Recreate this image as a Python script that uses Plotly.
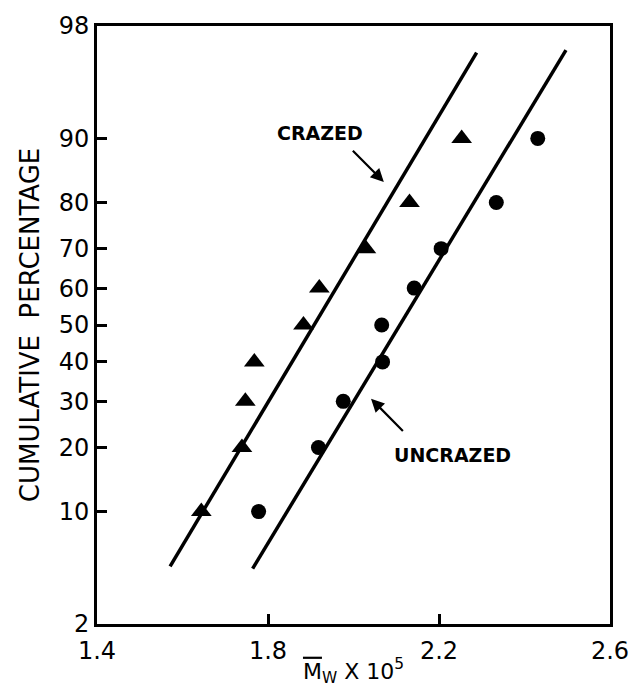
from statistics import NormalDist
import plotly.graph_objects as go

# ---- data ----
crazed_mw = [1.644, 1.739, 1.747, 1.768, 1.883, 1.920, 2.029, 2.131, 2.253]
crazed_pct = [10, 20, 30, 40, 50, 60, 70, 80, 90]
uncrazed_mw = [1.778, 1.918, 1.976, 2.068, 2.066, 2.142, 2.205, 2.334, 2.431]
uncrazed_pct = [10, 20, 30, 40, 50, 60, 70, 80, 90]

crazed_line_mw = [1.571, 2.288]
crazed_line_pct = [4.87, 96.93]
uncrazed_line_mw = [1.764, 2.497]
uncrazed_line_pct = [4.71, 97.05]

y_tick_pct = [2, 10, 20, 30, 40, 50, 60, 70, 80, 90, 98]
y_tick_text = ["2", "10", "20", "30", "40", "50", "60", "70", "80", "90", "98"]
x_tick_vals = [1.4, 1.8, 2.2, 2.6]
x_tick_text = ["1.4", "1.8", "2.2", "2.6"]

nd = NormalDist()
def z(p):
    return nd.inv_cdf(p / 100.0)

FONT = "DejaVu Sans"
fig = go.Figure()

fig.add_trace(go.Scatter(x=crazed_line_mw, y=[z(p) for p in crazed_line_pct], mode="lines",
                         line=dict(color="black", width=3.5), showlegend=False, hoverinfo="skip"))
fig.add_trace(go.Scatter(x=uncrazed_line_mw, y=[z(p) for p in uncrazed_line_pct], mode="lines",
                         line=dict(color="black", width=3.5), showlegend=False, hoverinfo="skip"))
fig.add_trace(go.Scatter(x=crazed_mw, y=[z(p) for p in crazed_pct], mode="markers",
                         marker=dict(symbol="triangle-up", size=18, color="black"),
                         showlegend=False, name="Crazed"))
fig.add_trace(go.Scatter(x=uncrazed_mw, y=[z(p) for p in uncrazed_pct], mode="markers",
                         marker=dict(symbol="circle", size=15, color="black"),
                         showlegend=False, name="Uncrazed"))

# labels and arrows
fig.add_annotation(x=1.921, y=1.322, text="<b>CRAZED</b>", showarrow=False,
                   font=dict(family=FONT, size=19, color="black"))
fig.add_annotation(x=2.071, y=0.982, ax=1.995, ay=1.207, axref="x", ayref="y", text="",
                   showarrow=True, arrowhead=2, arrowsize=1.2, arrowwidth=2.2, arrowcolor="black")
fig.add_annotation(x=2.231, y=-0.891, text="<b>UNCRAZED</b>", showarrow=False,
                   font=dict(family=FONT, size=19, color="black"))
fig.add_annotation(x=2.041, y=-0.506, ax=2.119, ay=-0.738, axref="x", ayref="y", text="",
                   showarrow=True, arrowhead=2, arrowsize=1.2, arrowwidth=2.2, arrowcolor="black")

fig.update_xaxes(range=[1.4, 2.6], tickvals=x_tick_vals, ticktext=x_tick_text,
                 ticks="inside", ticklen=10, tickwidth=2.5, tickcolor="black",
                 showline=True, linecolor="black", linewidth=3, mirror=True,
                 showgrid=False, zeroline=False, ticklabelstandoff=3,
                 tickfont=dict(family=FONT, size=24, color="black"),
                 title=dict(text="<span style=\"text-decoration:overline\">M</span><sub>W</sub> X 10<sup>5</sup>",
                            font=dict(family=FONT, size=22, color="black"), standoff=0))
fig.update_yaxes(range=[z(2), z(98)], tickvals=[z(p) for p in y_tick_pct], ticktext=y_tick_text,
                 ticks="inside", ticklen=10, tickwidth=2.5, tickcolor="black",
                 showline=True, linecolor="black", linewidth=3, mirror=True,
                 showgrid=False, zeroline=False,
                 tickfont=dict(family=FONT, size=24, color="black"),
                 title=dict(text="CUMULATIVE  PERCENTAGE",
                            font=dict(family=FONT, size=26, color="black"), standoff=12))

fig.update_layout(width=641, height=692, margin=dict(l=97, r=23, t=22, b=66),
                  paper_bgcolor="white", plot_bgcolor="white")
fig.write_html("out.html")
